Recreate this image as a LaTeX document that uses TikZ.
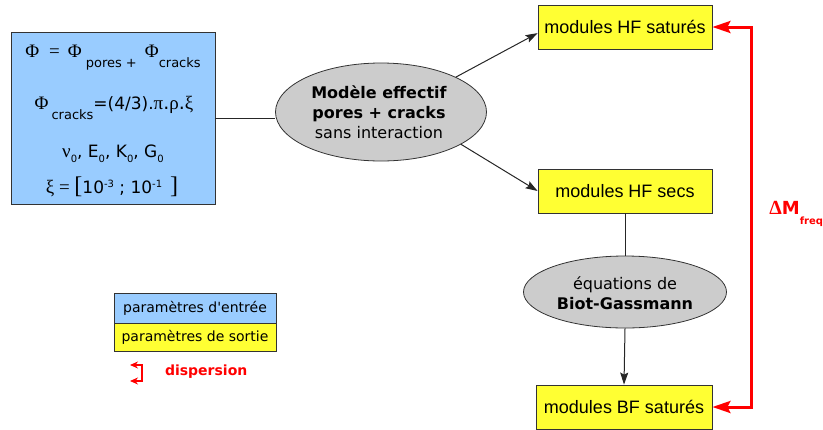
\documentclass[tikz,border=0pt]{standalone}
\usepackage{fontspec}
\setmainfont{DejaVu Sans}
\newfontfamily\serifgr{Liberation Serif}
\newfontfamily\arialike{Liberation Sans}
\usetikzlibrary{shapes.geometric,arrows.meta}
\definecolor{inblue}{RGB}{153,204,255}
\definecolor{outyellow}{RGB}{255,255,51}
\definecolor{ovalgray}{RGB}{204,204,204}
\definecolor{dispred}{RGB}{255,0,0}
\newcommand{\lowsub}[1]{\raisebox{-5pt}{\rmfamily\fontsize{6.5}{7}\selectfont #1}}
\newcommand{\tinysub}[1]{\raisebox{-2.7pt}{\rmfamily\fontsize{5}{6}\selectfont #1}}
\newcommand{\upsup}[1]{\raisebox{3pt}{\rmfamily\fontsize{5}{6}\selectfont #1}}

\begin{document}
\begin{tikzpicture}[x=0.5pt,y=-0.5pt,
    inbox/.style={draw=black!80,fill=inblue,inner sep=0pt},
    outbox/.style={draw=black!80,fill=outyellow,inner sep=0pt,minimum width=87pt,minimum height=22pt,font=\arialike\fontsize{9}{11}\selectfont},
    legend/.style={draw=black!80,inner sep=0pt,minimum width=81pt,font=\fontsize{7}{8}\selectfont},
    oval/.style={ellipse,draw=black!80,fill=ovalgray,inner sep=0pt},
    ovaltext/.style={align=center,font=\fontsize{8}{10}\selectfont},
    eqline/.style={anchor=base,font=\serifgr\fontsize{9.5}{11}\selectfont},
    line/.style={black!85,line width=0.5pt},
    flow/.style={line,-{Stealth[length=6pt,width=4pt,inset=1pt]}},
    disp/.style={dispred,line width=1.5pt,{Stealth[length=9pt,width=6pt,inset=1.5pt]}-{Stealth[length=9pt,width=6pt,inset=1.5pt]}}]
  \useasboundingbox (0,0) rectangle (823,429);

  % input parameters
  \node[inbox,minimum width=102pt,minimum height=86pt] (params) at (113,118) {};
  \node[eqline] (porosity) at (113,57) {Φ\hspace{5pt}=\hspace{4pt}Φ\hspace{2pt}\lowsub{pores +}\hspace{4pt}Φ\lowsub{cracks}};
  \node[eqline] (crackpor) at (114,109) {Φ\hspace{1.5pt}\lowsub{cracks}{\rmfamily\fontsize{8.5}{10}\selectfont=(4/3).}π{\rmfamily.}ρ{\rmfamily.}ξ};
  \node[eqline] (elastic) at (113,157) {ν\tinysub{0}{\rmfamily\fontsize{8.5}{10}\selectfont, E\tinysub{0}, K\tinysub{0}, G\tinysub{0}}};
  \node[eqline] (density) at (112,193) {ξ = {\fontsize{12}{13}\selectfont[}{\rmfamily\fontsize{8.5}{10}\selectfont 10\upsup{-3} ; 10\upsup{-1}}\hspace{4pt}{\fontsize{12}{13}\selectfont]}};

  % models
  \node[oval,minimum width=105.5pt,minimum height=49pt] (model) at (381,112) {};
  \node[ovaltext] (modeltext) at (379,112) {\textbf{Modèle effectif}\\\textbf{pores + cracks}\\sans interaction};
  \node[oval,minimum width=101.5pt,minimum height=36pt] (biot) at (625,292) {};
  \node[ovaltext] (biottext) at (625,293) {équations de\\\textbf{Biot-Gassmann}};

  % output moduli
  \node[outbox] (hfsat) at (625,27) {modules HF saturés};
  \node[outbox] (hfdry) at (625,191) {modules HF secs};
  \node[outbox,minimum width=88pt] (bfsat) at (624,407) {modules BF saturés};

  \draw[line] (params.east) -- (params.east -| model.west);
  \draw[flow] (model.25) -- (hfsat.184);
  \draw[flow] (model.-22) -- (hfdry.west);
  \draw[line] (hfdry.south) -- (biot.north);
  \draw[flow] (biot.south) -- (bfsat.north);
  \draw[disp] (hfsat.east) -- ++(39,0) |- (bfsat.east);
  \node[anchor=base west,inner sep=0pt,text=dispred,font=\bfseries\fontsize{9}{11}\selectfont] (deltam) at (769,214) {{\serifgr\fontsize{10}{11}\selectfont Δ}M\lowsub{\fontsize{5}{6}\selectfont freq}};

  % legend
  \node[legend,fill=inblue,minimum height=15pt] (legin) at (195,308) {paramètres d\textquotesingle entrée};
  \node[legend,fill=outyellow,minimum height=14pt,anchor=north] (legout) at (legin.south) {paramètres de sortie};
  \draw[dispred,line width=1pt,{Stealth[length=4pt,width=3.5pt]}-{Stealth[length=4pt,width=3.5pt]}] (130,365) -- (142,365) -- (142,381) -- (130,381);
  \node[anchor=west,text=dispred,font=\bfseries\fontsize{7}{8}\selectfont] (disptext) at (158,372) {dispersion};
\end{tikzpicture}
\end{document}
